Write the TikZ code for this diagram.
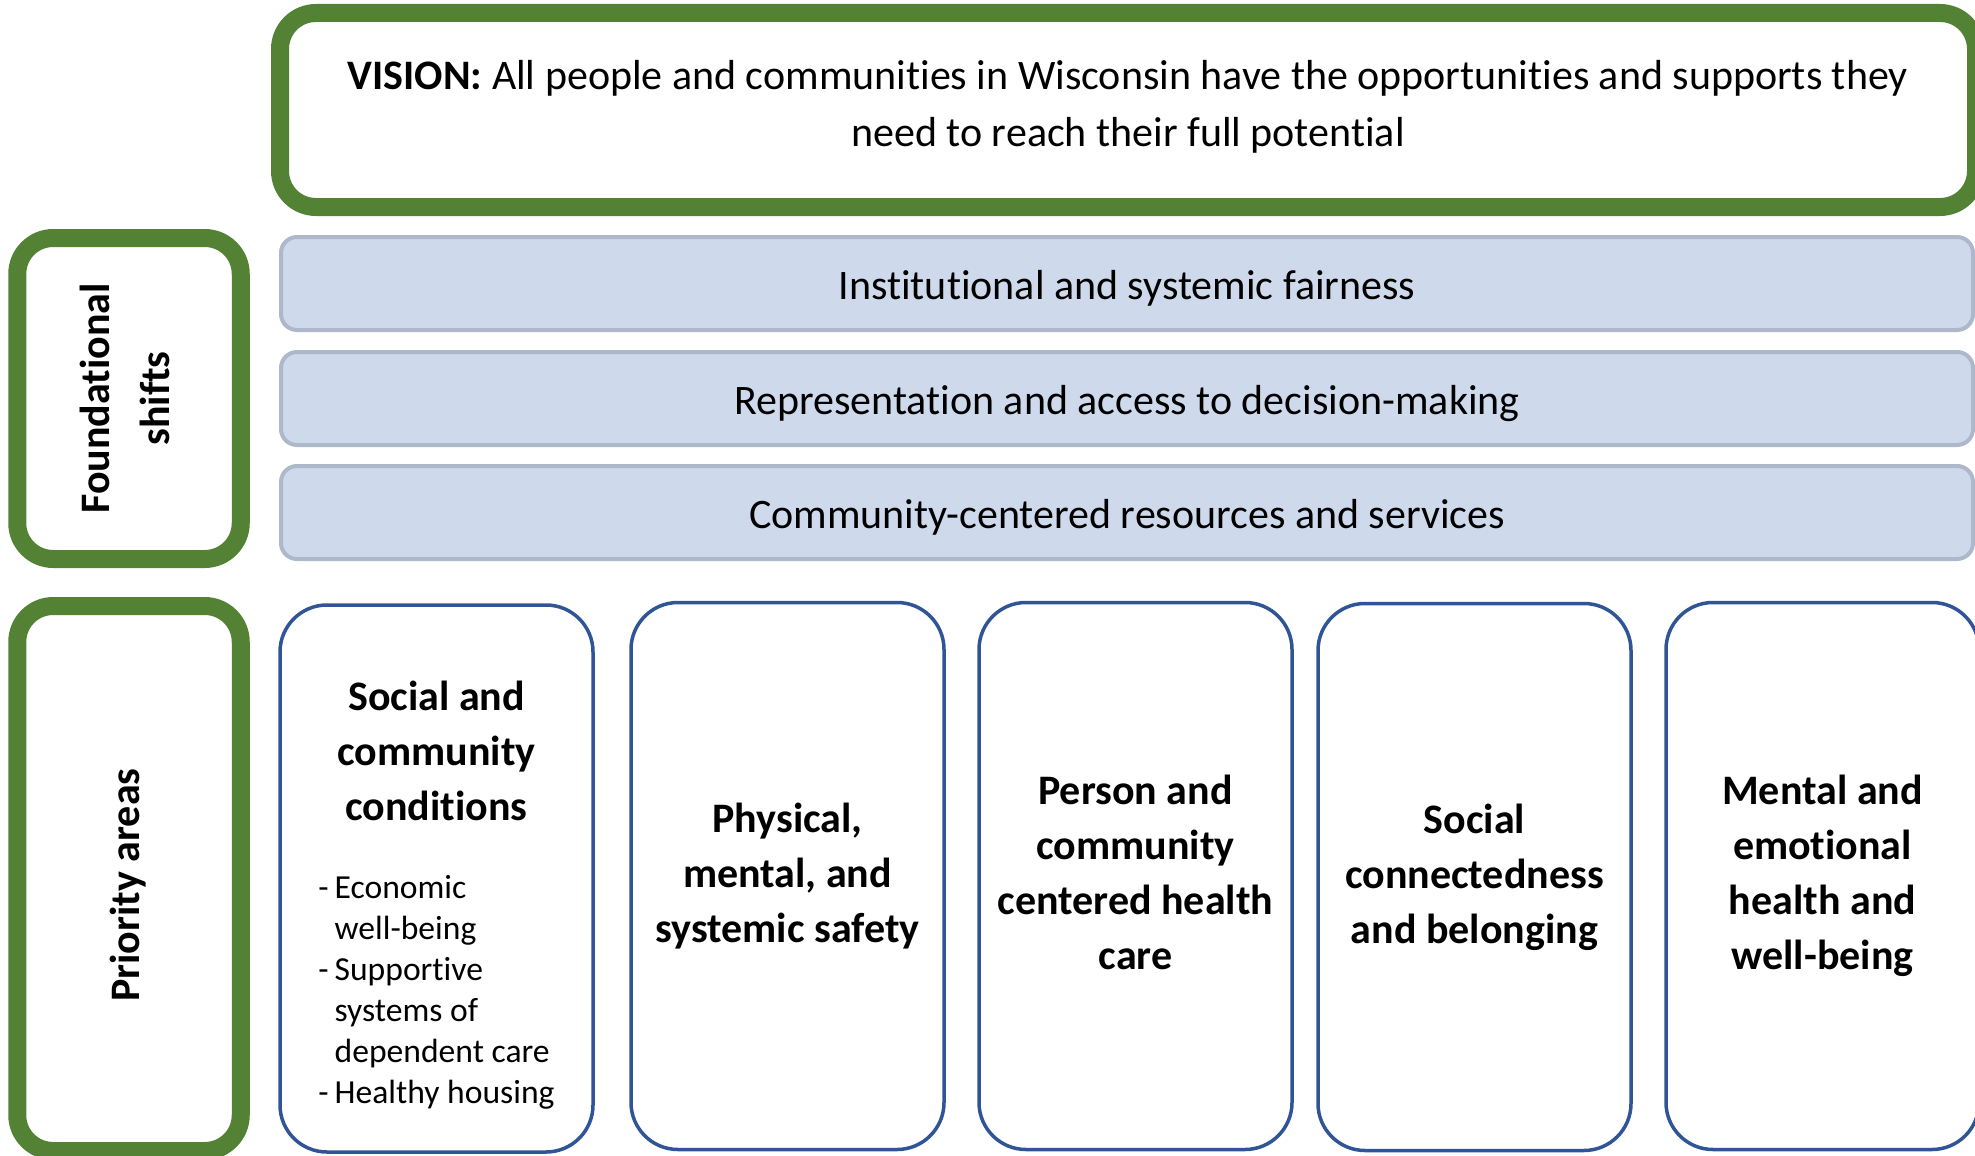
\documentclass[tikz,border=0pt]{standalone}
\usepackage{fontspec}
\setmainfont{Carlito}[Ligatures=NoCommon]
\definecolor{vgreen}{HTML}{548235}
\definecolor{areablue}{HTML}{2F5597}
\definecolor{barfill}{HTML}{CEDAEC}
\definecolor{barline}{HTML}{ADB9CA}
\begin{document}
\begin{tikzpicture}[x=0.5pt,y=-0.5pt,
  greenbox/.style={draw=vgreen, line width=9pt, rounded corners=18pt, fill=white},
  barbox/.style={draw=barline, line width=2pt, fill=barfill, rounded corners=8pt,
    minimum width=846pt, minimum height=46.5pt, inner sep=0pt,
    text height=19.8pt, text depth=3.8pt,
    font=\fontsize{21}{27}\selectfont},
  areabox/.style={draw=areablue, line width=1.75pt, rounded corners=23.5pt, fill=white,
    minimum width=156.5pt, minimum height=273.5pt, inner sep=0pt, align=center,
    font=\bfseries\fontsize{21}{27.5}\selectfont},
  sidelabel/.style={rotate=90, align=center, font=\bfseries\fontsize{21}{30}\selectfont},
]
\useasboundingbox (0,0) rectangle (1975,1156);

% Vision
\node[greenbox, minimum width=848pt, minimum height=97pt] (vision) at (1128,110) {};
\node[align=center, font=\fontsize{21}{28.5}\selectfont] (visiontxt) at (1128,107)
  {\textbf{VISION:} All people and communities in Wisconsin have the opportunities and supports they\\need to reach their full potential};

% Side labels
\node[greenbox, minimum width=111.75pt, minimum height=160.5pt] (found) at (129,398.5) {};
\node[sidelabel] (foundtxt) at (125,398.5) {Foundational\\shifts};
\node[greenbox, minimum width=111.75pt, minimum height=272.5pt] (prio) at (129,878.5) {};
\node[sidelabel] (priotxt) at (128,885) {Priority areas};

% Foundational shifts bars
\node[barbox] (bar1) at (1127,283.5) {Institutional and systemic fairness};
\node[barbox] (bar2) at (1127,398.5) {Representation and access to decision-making};
\node[barbox] (bar3) at (1127,512.5) {Community-centered resources and services};

% Priority areas
\node[areabox] (area1) at (436.5,878.5) {};
\node[align=center, font=\bfseries\fontsize{21}{27.5}\selectfont] (area1title) at (436.5,751)
  {Social and\\community\\conditions};
\node[anchor=west, inner sep=0pt] (area1list) at (318,993)
  {\fontsize{16.8}{20.5}\selectfont
   \begin{tabular}{@{}l@{\hspace{3pt}}l@{}}
   - & Economic\\
     & well-being\\
   - & Supportive\\
     & systems of\\
     & dependent care\\
   - & Healthy housing
   \end{tabular}};
\node[areabox] (area2) at (787.5,876) {Physical,\\mental, and\\systemic safety};
\node[areabox] (area3) at (1135.5,876) {Person and\\community\\centered health\\care\vphantom{g}};
\node[areabox] (area4) at (1474.5,877) {Social\\connectedness\\and belonging};
\node[areabox] (area5) at (1822.5,876) {Mental and\\emotional\\health and\\well-being};
\end{tikzpicture}
\end{document}
